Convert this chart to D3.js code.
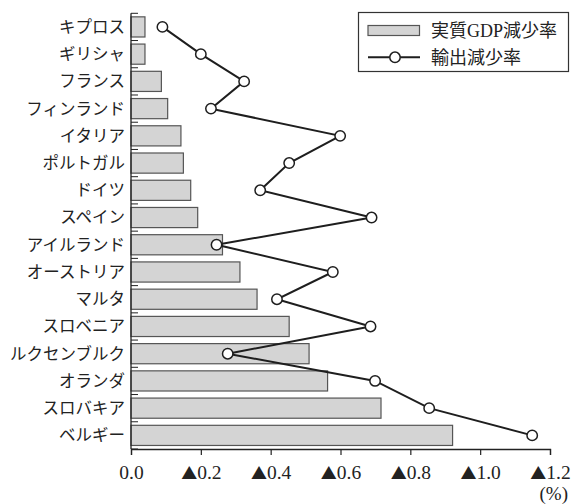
<!DOCTYPE html>
<html>
<head>
<meta charset="utf-8">
<script src="https://cdn.jsdelivr.net/npm/d3@7/dist/d3.min.js"></script>
<style>
  html, body { margin: 0; padding: 0; background: #fff; }
  svg { display: block; }
</style>
</head>
<body>
<svg id="chart" width="571" height="504"></svg>
<script>
// Countries, top to bottom
const countries = ["キプロス", "ギリシャ", "フランス", "フィンランド", "イタリア", "ポルトガル", "ドイツ", "スペイン",
  "アイルランド", "オーストリア", "マルタ", "スロベニア", "ルクセンブルク", "オランダ", "スロバキア", "ベルギー"];
// Real GDP decline (%), drawn as bars
const gdpDecline = [0.040, 0.040, 0.087, 0.105, 0.143, 0.150, 0.171, 0.191,
  0.262, 0.312, 0.361, 0.453, 0.510, 0.563, 0.716, 0.921];
// Export decline (%), drawn as the line with open markers
const exportDecline = [0.090, 0.200, 0.324, 0.229, 0.599, 0.453, 0.370, 0.689,
  0.245, 0.578, 0.418, 0.686, 0.277, 0.699, 0.854, 1.149];
// Axis ticks and their labels (▲ marks a negative change)
const xTicks = [0, 0.2, 0.4, 0.6, 0.8, 1.0, 1.2];
const xTickLabels = ["0.0", "▲0.2", "▲0.4", "▲0.6", "▲0.8", "▲1.0", "▲1.2"];
const seriesNames = ["実質GDP減少率", "輸出減少率"];
const unitLabel = "(%)";

const svg = d3.select("#chart");
const plotLeft = 131, plotRight = 550, plotTop = 13.3, plotBottom = 449;
const jpFont = "'Noto Sans CJK JP', sans-serif";
const numFont = "'Liberation Serif', 'DejaVu Serif', serif";

const x = d3.scaleLinear().domain([0, 1.2]).range([plotLeft, plotRight]);
const pad = 0.26;
const y = d3.scaleBand().domain(countries).range([plotTop, plotBottom])
  .paddingInner(pad).paddingOuter(pad / 2);
const step = y.step();

// Bars
svg.append("g").selectAll("rect")
  .data(countries)
  .join("rect")
  .attr("x", x(0))
  .attr("y", d => y(d))
  .attr("width", (d, i) => x(gdpDecline[i]) - x(0))
  .attr("height", y.bandwidth())
  .attr("fill", "#d4d4d4")
  .attr("stroke", "#555")
  .attr("stroke-width", 1.2);

// Left axis: line plus short inward ticks at category boundaries
const yAxis = svg.append("g");
yAxis.append("line")
  .attr("x1", plotLeft).attr("x2", plotLeft)
  .attr("y1", plotTop).attr("y2", plotBottom)
  .attr("stroke", "#222").attr("stroke-width", 1.3);
yAxis.selectAll("line.b")
  .data(d3.range(countries.length + 1))
  .join("line")
  .attr("class", "b")
  .attr("x1", plotLeft).attr("x2", plotLeft + 7)
  .attr("y1", i => y.range()[0] + i * step)
  .attr("y2", i => y.range()[0] + i * step)
  .attr("stroke", "#222").attr("stroke-width", 1);
yAxis.selectAll("text")
  .data(countries)
  .join("text")
  .attr("x", 125)
  .attr("y", d => y(d) + y.bandwidth() / 2)
  .attr("dy", "0.36em")
  .attr("text-anchor", "end")
  .attr("font-family", jpFont)
  .attr("font-size", 16.5)
  .attr("fill", "#222")
  .text(d => d);

// Bottom axis
const xAxis = svg.append("g")
  .attr("transform", `translate(0,${plotBottom})`)
  .call(d3.axisBottom(x).tickValues(xTicks)
    .tickFormat((d, i) => xTickLabels[i]).tickSizeOuter(0).tickSize(6));
xAxis.select(".domain").attr("stroke", "#222").attr("stroke-width", 1.3);
xAxis.selectAll(".tick line").attr("stroke", "#222").attr("stroke-width", 1.2);
// Split each label so the triangle uses a full-width glyph
xAxis.selectAll(".tick text").each(function (d, i) {
  const label = xTickLabels[i];
  const t = d3.select(this).text(null)
    .attr("y", 30).attr("dy", 0)
    .attr("font-family", numFont)
    .attr("font-size", 19.5)
    .attr("fill", "#222");
  if (label.startsWith("▲")) {
    t.append("tspan").attr("font-family", jpFont).attr("font-size", 16).text("▲");
    t.append("tspan").text(label.slice(1));
  } else {
    t.append("tspan").text(label);
  }
});

svg.append("text")
  .attr("x", 568).attr("y", 500)
  .attr("text-anchor", "end")
  .attr("font-family", numFont)
  .attr("font-size", 19)
  .attr("fill", "#222")
  .text(unitLabel);

// Export line with open circle markers
const pts = countries.map((c, i) => [x(exportDecline[i]), y(c) + y.bandwidth() / 2]);
svg.append("path")
  .attr("d", d3.line()(pts))
  .attr("fill", "none")
  .attr("stroke", "#1e1e1e")
  .attr("stroke-width", 2);
svg.append("g").selectAll("circle")
  .data(pts)
  .join("circle")
  .attr("cx", d => d[0]).attr("cy", d => d[1])
  .attr("r", 5.2)
  .attr("fill", "#fff")
  .attr("stroke", "#1e1e1e")
  .attr("stroke-width", 1.5);

// Legend
const lg = svg.append("g");
lg.append("rect")
  .attr("x", 358.5).attr("y", 12.5).attr("width", 210).attr("height", 59)
  .attr("fill", "#fff").attr("stroke", "#333").attr("stroke-width", 1.2);
lg.append("rect")
  .attr("x", 368).attr("y", 25.5).attr("width", 51.5).attr("height", 10)
  .attr("fill", "#d4d4d4").attr("stroke", "#555").attr("stroke-width", 1.2);
lg.append("line")
  .attr("x1", 368).attr("x2", 420).attr("y1", 57.3).attr("y2", 57.3)
  .attr("stroke", "#1e1e1e").attr("stroke-width", 2);
lg.append("circle")
  .attr("cx", 395).attr("cy", 57.3).attr("r", 5.2)
  .attr("fill", "#fff").attr("stroke", "#1e1e1e").attr("stroke-width", 1.5);
lg.selectAll("text")
  .data(seriesNames)
  .join("text")
  .attr("x", 431)
  .attr("y", (d, i) => [30.5, 57.8][i])
  .attr("dy", "0.36em")
  .attr("font-family", "'Liberation Serif', 'Noto Sans CJK JP', serif")
  .attr("font-size", 18)
  .attr("fill", "#222")
  .text(d => d);
</script>
</body>
</html>
